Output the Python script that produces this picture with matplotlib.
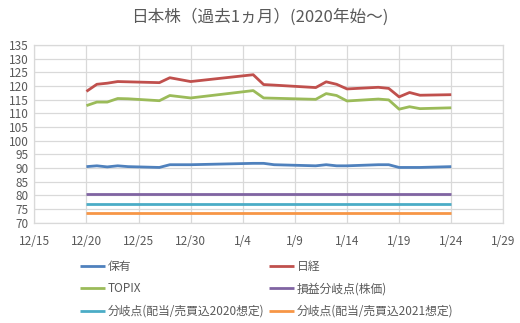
import datetime as dt

import matplotlib
matplotlib.use("Agg")
import matplotlib.dates as mdates
import matplotlib.pyplot as plt
from matplotlib.ticker import FuncFormatter, MultipleLocator

plt.rcParams["font.family"] = ["Noto Sans CJK JP", "DejaVu Sans"]

# trading days, 2021-12-20 .. 2022-01-24
dates = ["2021-12-20", "2021-12-21", "2021-12-22", "2021-12-23", "2021-12-24",
         "2021-12-27", "2021-12-28", "2021-12-30", "2022-01-05", "2022-01-06",
         "2022-01-07", "2022-01-11", "2022-01-12", "2022-01-13", "2022-01-14",
         "2022-01-17", "2022-01-18", "2022-01-19", "2022-01-20", "2022-01-21",
         "2022-01-24"]

holding = [90.5, 90.8, 90.4, 90.8, 90.5, 90.2, 91.2, 91.2, 91.7, 91.7,
           91.2, 90.8, 91.2, 90.8, 90.8, 91.2, 91.2, 90.2, 90.2, 90.2, 90.5]
nikkei = [118.0, 120.6, 121.0, 121.6, 121.5, 121.2, 123.0, 121.6, 124.1, 120.5,
          120.3, 119.4, 121.5, 120.6, 118.9, 119.5, 119.1, 116.0, 117.6, 116.6, 116.8]
topix = [112.8, 114.1, 114.1, 115.4, 115.3, 114.6, 116.5, 115.6, 118.3, 115.6,
         115.5, 115.1, 117.2, 116.5, 114.5, 115.2, 114.9, 111.5, 112.4, 111.7, 112.0]

breakeven_price = 80.6
breakeven_2020 = 77.0
breakeven_2021 = 73.7

x = [dt.datetime.strptime(d, "%Y-%m-%d") for d in dates]
n = len(x)

series = [
    ("保有", holding, "#4F81BD"),
    ("日経", nikkei, "#C0504D"),
    ("TOPIX", topix, "#9BBB59"),
    ("損益分岐点(株価)", [breakeven_price] * n, "#8064A2"),
    ("分岐点(配当/売買込2020想定)", [breakeven_2020] * n, "#4BACC6"),
    ("分岐点(配当/売買込2021想定)", [breakeven_2021] * n, "#F79646"),
]

fig = plt.figure(figsize=(5.2, 3.23), dpi=100)
ax = fig.add_axes([0.066, 0.3105, 0.902, 0.5505])

lines = {}
for label, vals, color in series:
    (ln,) = ax.plot(x, vals, color=color, lw=2.0, label=label,
                    solid_capstyle="butt")
    lines[label] = ln

start = dt.datetime(2021, 12, 15)
ax.set_xlim(start, dt.datetime(2022, 1, 29))
ax.set_ylim(70, 135)
ax.yaxis.set_major_locator(MultipleLocator(5))
ax.set_xticks([start + dt.timedelta(days=5 * i) for i in range(10)])
ax.xaxis.set_major_formatter(
    FuncFormatter(lambda v, _: f"{mdates.num2date(v).month}/{mdates.num2date(v).day}"))

grid_c = "#D9D9D9"
ax.grid(True, color=grid_c, lw=0.9)
ax.set_axisbelow(True)
for sp in ax.spines.values():
    sp.set_color(grid_c)
    sp.set_linewidth(0.9)
ax.tick_params(length=0, labelsize=8.5, colors="#595959", pad=4)
ax.tick_params(axis="x", pad=9)

fig.suptitle("日本株（過去1ヵ月）(2020年始～)", x=0.5, y=0.975, fontsize=12,
             color="#595959")

leg_kw = dict(frameon=False, fontsize=8.5, handlelength=2.1, handletextpad=0.2,
              labelspacing=0.8, labelcolor="#595959", borderaxespad=0)
left = [lines[s[0]] for s in series[0::2]]
right = [lines[s[0]] for s in series[1::2]]
fig.legend(left, [h.get_label() for h in left], loc="upper left",
           bbox_to_anchor=(0.145, 0.21), **leg_kw)
fig.legend(right, [h.get_label() for h in right], loc="upper left",
           bbox_to_anchor=(0.509, 0.21), **leg_kw)

fig.savefig("out.png", dpi=100)
